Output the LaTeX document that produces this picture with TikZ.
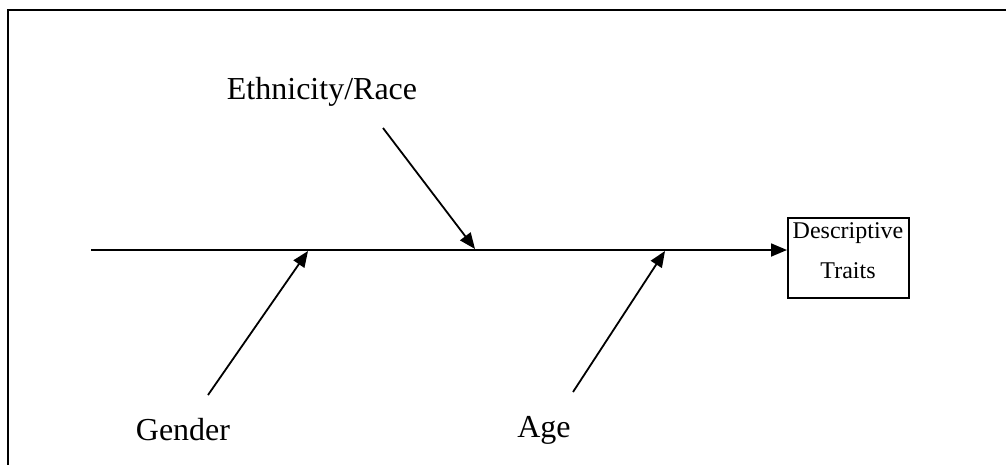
\documentclass[tikz,border=0pt]{standalone}
\usepackage{fontspec}
\setmainfont{Liberation Serif}
\usetikzlibrary{arrows.meta}
\tikzset{
  lbl/.style={font=\fontsize{32}{36}\selectfont, inner sep=0pt},
  boxtxt/.style={font=\fontsize{24}{28}\selectfont, inner sep=0pt},
  bone/.style={line width=1.8pt, -{Triangle[length=16pt,width=13pt]}},
}
\begin{document}
\begin{tikzpicture}[x=1pt,y=-1pt]
\useasboundingbox (0,0) rectangle (1006,464);
\clip (0,0) rectangle (1006,464);
\draw[line width=2.6pt] (8,10) rectangle (1020,480);
\node[draw, line width=1.8pt, minimum width=121pt, minimum height=80pt, anchor=north west, inner sep=0pt] (box) at (787,217) {};
\node[boxtxt] (t1) at (848,233) {Descriptive};
\node[boxtxt] (t2) at (848,271) {Traits};
\coordinate (s) at (91,250);
\draw[bone] (s) -- (box.west |- s);
\node[lbl] (eth) at (322,92) {Ethnicity/Race};
\node[lbl] (gen) at (183,430) {Gender};
\node[lbl] (age) at (544,430) {Age};
\coordinate (e0) at (383,128);
\coordinate (e1) at (475,249);
\coordinate (g0) at (208,395);
\coordinate (g1) at (308,251);
\coordinate (a0) at (573,392);
\coordinate (a1) at (665,251);
\draw[bone] (e0) -- (e1);
\draw[bone] (g0) -- (g1);
\draw[bone] (a0) -- (a1);
\end{tikzpicture}
\end{document}
